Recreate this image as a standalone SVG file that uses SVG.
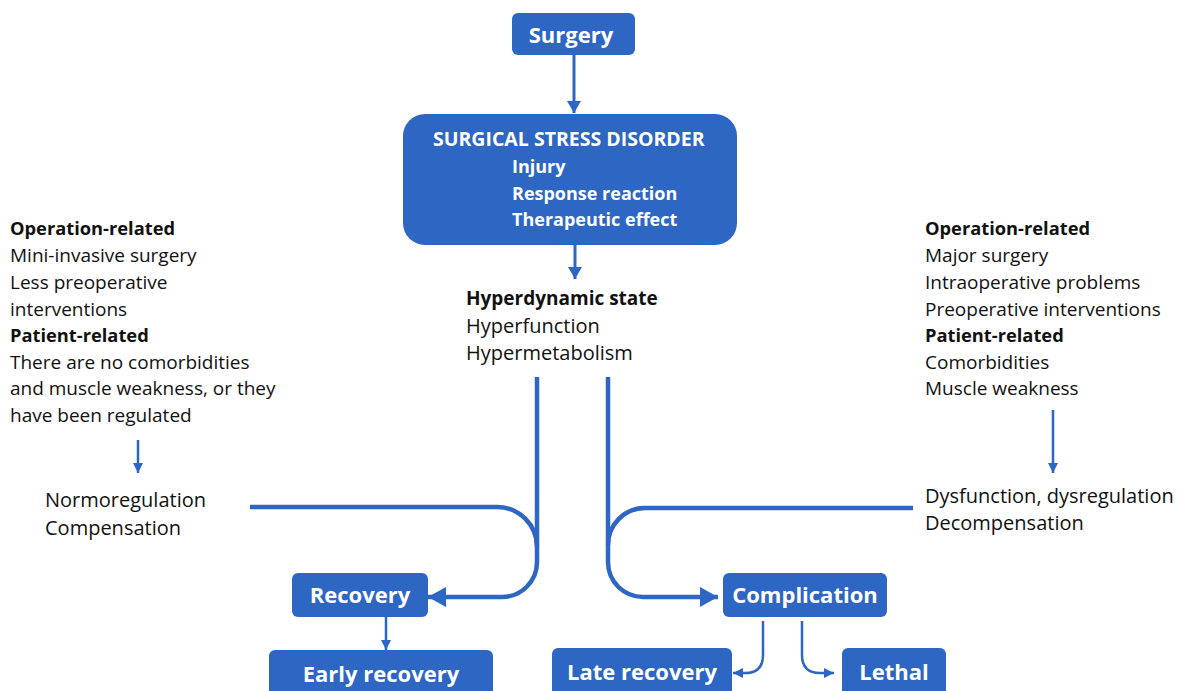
<svg xmlns="http://www.w3.org/2000/svg" width="1178" height="691" viewBox="0 0 1178 691">
<defs>
<style>
.box{fill:#2d66c3;}
.bt{fill:#ffffff;font-family:"Open Sans","Noto Sans",sans-serif;font-weight:bold;font-size:22px;text-anchor:middle;}
.st{fill:#ffffff;font-family:"Open Sans","Noto Sans",sans-serif;font-weight:bold;font-size:18px;}
.title{font-size:19.5px;}
.t{fill:#111111;font-family:"Open Sans","Noto Sans",sans-serif;font-size:19px;}
.tb{font-weight:bold;font-size:18.3px;}
.big{font-size:20px;}
.bigb{font-weight:bold;font-size:19px;}
.c{fill:none;stroke:#2d66c3;}
.thick{stroke-width:4.5;}
.med{stroke-width:3;}
.thin{stroke-width:2.5;}
</style>
<marker id="big" markerUnits="userSpaceOnUse" markerWidth="20" markerHeight="22" refX="18" refY="10" orient="auto" viewBox="0 0 20 22">
<path d="M0,0 L18,10 L0,20 Z" fill="#2d66c3"/>
</marker>
<marker id="mid" markerUnits="userSpaceOnUse" markerWidth="16" markerHeight="16" refX="12" refY="7" orient="auto" viewBox="0 0 16 16">
<path d="M0,0 L12,7 L0,14 Z" fill="#2d66c3"/>
</marker>
<marker id="small" markerUnits="userSpaceOnUse" markerWidth="12" markerHeight="12" refX="10" refY="5" orient="auto" viewBox="0 0 12 12">
<path d="M0,0 L10,5 L0,10 Z" fill="#2d66c3"/>
</marker>
</defs>

<g id="connectors">
<path class="c med" d="M574,55 V113" marker-end="url(#mid)"/>
<path class="c med" d="M575,245 V279" marker-end="url(#mid)"/>
<path class="c thick" d="M537,377 V562 A35,35 0 0 1 502,597 H428" marker-end="url(#big)"/>
<path class="c thick" d="M250,507 H497 A40,40 0 0 1 537,547"/>
<path class="c thick" d="M608,377 V562 A35,35 0 0 0 643,597 H718" marker-end="url(#big)"/>
<path class="c thick" d="M913,508 H645 A37,37 0 0 0 608,545"/>
<path class="c thin" d="M386,617 V650" marker-end="url(#small)"/>
<path class="c thin" d="M763,621 V655 Q763,673 745,673 H733" marker-end="url(#small)"/>
<path class="c thin" d="M802,621 V655 Q802,673 820,673 H834" marker-end="url(#small)"/>
<path class="c thin" d="M138,440 V473" marker-end="url(#small)"/>
<path class="c thin" d="M1053,410 V473" marker-end="url(#small)"/>
</g>

<g id="surgery">
<rect class="box" x="512" y="13" width="123" height="42" rx="6"/>
<text class="bt" x="571" y="43">Surgery</text>
</g>

<g id="ssd">
<rect class="box" x="403" y="114" width="334" height="131" rx="22"/>
<text class="st title" x="433" y="146">SURGICAL STRESS DISORDER</text>
<text class="st" x="512" y="173">Injury</text>
<text class="st" x="512" y="200">Response reaction</text>
<text class="st" x="512" y="226">Therapeutic effect</text>
</g>

<g id="hyperdynamic">
<text class="t bigb" x="466" y="305">Hyperdynamic state</text>
<text class="t big" x="466" y="333">Hyperfunction</text>
<text class="t big" x="466" y="360">Hypermetabolism</text>
</g>

<g id="left-factors">
<text class="t tb" x="10" y="235">Operation-related</text>
<text class="t" x="10" y="262">Mini-invasive surgery</text>
<text class="t" x="10" y="289">Less preoperative</text>
<text class="t" x="10" y="316">interventions</text>
<text class="t tb" x="10" y="342">Patient-related</text>
<text class="t" x="10" y="369">There are no comorbidities</text>
<text class="t" x="10" y="395">and muscle weakness, or they</text>
<text class="t" x="10" y="422">have been regulated</text>
</g>

<g id="right-factors">
<text class="t tb" x="925" y="235">Operation-related</text>
<text class="t" x="925" y="262">Major surgery</text>
<text class="t" x="925" y="289">Intraoperative problems</text>
<text class="t" x="925" y="316">Preoperative interventions</text>
<text class="t tb" x="925" y="342">Patient-related</text>
<text class="t" x="925" y="369">Comorbidities</text>
<text class="t" x="925" y="395">Muscle weakness</text>
</g>

<g id="normoregulation">
<text class="t big" x="45" y="507">Normoregulation</text>
<text class="t big" x="45" y="535">Compensation</text>
</g>

<g id="dysfunction">
<text class="t big" x="925" y="503">Dysfunction, dysregulation</text>
<text class="t big" x="925" y="530">Decompensation</text>
</g>

<g id="recovery">
<rect class="box" x="292" y="573" width="136" height="44" rx="6"/>
<text class="bt" x="360" y="603">Recovery</text>
</g>

<g id="early-recovery">
<rect class="box" x="269" y="650" width="224" height="50" rx="6"/>
<text class="bt" x="381" y="682">Early recovery</text>
</g>

<g id="complication">
<rect class="box" x="723" y="573" width="164" height="44" rx="6"/>
<text class="bt" x="805" y="603">Complication</text>
</g>

<g id="late-recovery">
<rect class="box" x="552" y="648" width="180" height="52" rx="6"/>
<text class="bt" x="642" y="680">Late recovery</text>
</g>

<g id="lethal">
<rect class="box" x="842" y="648" width="104" height="52" rx="6"/>
<text class="bt" x="894" y="680">Lethal</text>
</g>
</svg>
